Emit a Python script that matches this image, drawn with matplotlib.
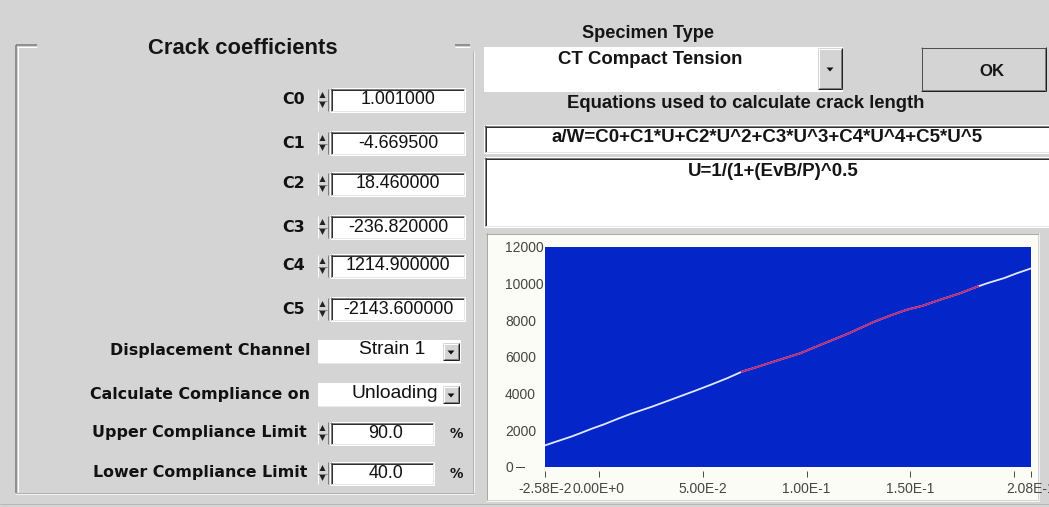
import matplotlib
matplotlib.use('Agg')
import matplotlib.pyplot as plt
from matplotlib.patches import Rectangle, Polygon
from matplotlib.lines import Line2D
import matplotlib.transforms as mtransforms
from matplotlib import font_manager

# ---------------- chart data ----------------
x_data = [-0.0258, -0.0195, -0.0131, -0.0080, -0.0035, 0.0029, 0.0090, 0.0157,
          0.0254, 0.0350, 0.0462, 0.0536, 0.0620, 0.0688, 0.0760, 0.0840,
          0.0969, 0.1080, 0.1201, 0.1321, 0.1400, 0.1482, 0.1560, 0.1642,
          0.1740, 0.1825, 0.1874, 0.1950, 0.2010, 0.2072, 0.2080]
y_data = [1180, 1420, 1660, 1880, 2080, 2340, 2620, 2910,
          3280, 3680, 4150, 4470, 4850, 5195, 5450, 5740,
          6200, 6720, 7280, 7900, 8250, 8575, 8800, 9120,
          9480, 9850, 10040, 10300, 10560, 10800, 10830]
x_fit = [0.0688, 0.0760, 0.0840, 0.0969, 0.1080, 0.1201, 0.1321, 0.1400,
         0.1482, 0.1560, 0.1642, 0.1740, 0.1825]
y_fit = [5195, 5450, 5740, 6200, 6720, 7280, 7900, 8250,
         8575, 8800, 9120, 9480, 9850]
x_ticks = [-0.0258, 0.0, 0.05, 0.10, 0.15, 0.20, 0.208]
x_tick_labels = ['-2.58E-2', '0.00E+0', '5.00E-2', '1.00E-1', '1.50E-1', '', '2.08E-1']
y_ticks = [0, 2000, 4000, 6000, 8000, 10000, 12000]
y_tick_labels = ['0', '2000', '4000', '6000', '8000', '10000', '12000']
x_limits = [-0.0258, 0.208]
y_limits = [0, 12000]

# ---------------- dialog texts ----------------
coef_labels = ['C0', 'C1', 'C2', 'C3', 'C4', 'C5']
coef_values = ['1.001000', '-4.669500', '18.460000', '-236.820000', '1214.900000', '-2143.600000']
option_labels = ['Displacement Channel', 'Calculate Compliance on']
option_values = ['Strain 1', 'Unloading']
limit_labels = ['Upper Compliance Limit', 'Lower Compliance Limit']
limit_values = ['90.0', '40.0']
group_title = 'Crack coefficients'
specimen_title = 'Specimen Type'
specimen_value = 'CT Compact Tension'
ok_label = 'OK'
equation_title = 'Equations used to calculate crack length'
equations = ['a/W=C0+C1*U+C2*U^2+C3*U^3+C4*U^4+C5*U^5', 'U=1/(1+(EvB/P)^0.5']

# ---------------- setup ----------------
W, H, DPI = 1049, 507, 100
PX = 72.0 / DPI
BG = '#d4d4d4'
names = {f.name for f in font_manager.fontManager.ttflist}
NARROW = 'Liberation Sans Narrow' if 'Liberation Sans Narrow' in names else 'Liberation Sans'
SANS = 'Liberation Sans'
BOLD = 'DejaVu Sans'

fig = plt.figure(figsize=(W / DPI, H / DPI), dpi=DPI, facecolor=BG)
ax0 = fig.add_axes([0, 0, 1, 1])
ax0.set_xlim(0, W)
ax0.set_ylim(H, 0)
ax0.set_autoscale_on(False)
ax0.axis('off')
renderer = fig.canvas.get_renderer()


def hline(x0, x1, y, c, lw=1):
    ax0.add_line(Line2D([x0, x1], [y, y], color=c, lw=lw * PX, solid_capstyle='butt'))


def vline(x, y0, y1, c, lw=1):
    ax0.add_line(Line2D([x, x], [y0, y1], color=c, lw=lw * PX, solid_capstyle='butt'))


def rect(x0, y0, x1, y1, face):
    ax0.add_patch(Rectangle((x0, y0), x1 - x0, y1 - y0, facecolor=face, edgecolor='none'))


def sunken(x0, y0, x1, y1, face='white'):
    rect(x0, y0, x1, y1, face)
    hline(x0, x1, y0 + 0.5, '#808080'); vline(x0 + 0.5, y0, y1, '#808080')
    hline(x0 + 1, x1 - 1, y0 + 1.5, '#303030'); vline(x0 + 1.5, y0 + 1, y1 - 1, '#303030')
    hline(x0, x1, y1 - 0.5, '#ffffff'); vline(x1 - 0.5, y0, y1, '#ffffff')
    hline(x0 + 1, x1 - 1, y1 - 1.5, '#e6e6e6'); vline(x1 - 1.5, y0 + 1, y1 - 1, '#e6e6e6')


def raised(x0, y0, x1, y1, face=BG):
    rect(x0, y0, x1, y1, face)
    hline(x0, x1, y0 + 0.5, '#ffffff'); vline(x0 + 0.5, y0, y1, '#ffffff')
    hline(x0, x1, y1 - 0.5, '#202020'); vline(x1 - 0.5, y0, y1, '#202020')
    hline(x0 + 1, x1 - 1, y1 - 1.5, '#808080'); vline(x1 - 1.5, y0 + 1, y1 - 1, '#808080')


def tri(cx, cy, w, h, up, c='#111111'):
    if up:
        pts = [(cx - w / 2, cy + h / 2), (cx + w / 2, cy + h / 2), (cx, cy - h / 2)]
    else:
        pts = [(cx - w / 2, cy - h / 2), (cx + w / 2, cy - h / 2), (cx, cy + h / 2)]
    ax0.add_patch(Polygon(pts, closed=True, facecolor=c, edgecolor='none'))


def put(x, y, s, size=10, width=None, ha='center', family=SANS, weight='normal', color='#111111'):
    t = ax0.text(x, y, s, ha=ha, va='center', fontsize=size, family=family,
                 weight=weight, color=color)
    if width:
        bb = t.get_window_extent(renderer)
        t.set_fontsize(size * width / bb.width)
    return t


def fitsize(s, width, family, weight, size=10):
    t = ax0.text(0, 0, s, fontsize=size, family=family, weight=weight)
    bb = t.get_window_extent(renderer)
    t.remove()
    return size * width / bb.width


def spinner(x0, cy):
    rect(x0, cy - 11, x0 + 11, cy + 11, BG)
    vline(x0 + 0.5, cy - 11, cy + 11, '#ffffff')
    vline(x0 + 10.5, cy - 11, cy + 11, '#808080')
    hline(x0 + 1, x0 + 10, cy + 0.5, '#808080')
    tri(x0 + 5.5, cy - 5, 6, 6, True, '#222222')
    tri(x0 + 5.5, cy + 5, 6, 6, False, '#222222')


def dropbtn(x0, y0, x1, y1):
    raised(x0, y0, x1, y1)
    tri((x0 + x1) / 2, (y0 + y1) / 2 + 1, 7, 4, False)


# ---------------- left group box ----------------
gx0, gy0, gx1, gy1 = 16, 45, 473, 493
vline(gx0, gy0, gy1, '#7a7a7a', 1.5); vline(gx0 + 1.5, gy0 + 1, gy1 - 1, '#ffffff')
hline(gx0, 37, gy0, '#7a7a7a', 1.5); hline(gx0 + 1, 37, gy0 + 1.5, '#ffffff')
hline(455, 470, gy0, '#7a7a7a', 1.5); hline(455, 470, gy0 + 1.5, '#ffffff')
vline(gx1, gy0 + 6, gy1, '#b0b0b0'); vline(gx1 + 1, gy0 + 6, gy1, '#f4f4f4')
hline(gx0, gx1 + 1, gy1, '#b0b0b0'); hline(gx0, gx1 + 1, gy1 + 1, '#f4f4f4')
put(243, 48, group_title, size=15, width=191, family=NARROW, weight='bold', color='#151515')

lab_size = fitsize('Displacement Channel', 200, BOLD, 'bold', 11)
val_size = fitsize('1214.900000', 104, SANS, 'normal', 10)

coef_y = [100, 143, 184, 227, 266, 309]
for name, val, y in zip(coef_labels, coef_values, coef_y):
    put(305, y, name, size=lab_size, ha='right', family=BOLD, weight='bold')
    spinner(317, y)
    sunken(330, y - 12, 465, y + 12)
    put(398, y, val, size=val_size)

opt_y = [351, 394]
opt_cx = [392, 395]
for name, val, y, cx in zip(option_labels, option_values, opt_y, opt_cx):
    put(310, y, name, size=lab_size, ha='right', family=BOLD, weight='bold')
    rect(318, y - 11, 461, y + 12, 'white')
    hline(318, 461, y + 11.5, '#e8e8e8')
    dropbtn(443, y - 8, 459, y + 9)
    put(cx, y - 1, val, size=val_size * 1.08)

lim_y = [433, 473]
for name, val, y in zip(limit_labels, limit_values, lim_y):
    put(307, y, name, size=lab_size, ha='right', family=BOLD, weight='bold')
    spinner(317, y)
    sunken(330, y - 11, 434, y + 12)
    put(386, y, val, size=val_size)
    put(456, y + 1, '%', size=lab_size * 0.85, family=BOLD, weight='bold')

# ---------------- right side widgets ----------------
put(648, 33, specimen_title, size=13, width=132, family=NARROW, weight='bold', color='#151515')
rect(484, 47, 843, 92, 'white')
dropbtn(818, 48, 842, 89)
put(650, 60, specimen_value, size=12, width=183, family=NARROW, weight='bold', color='#151515')

raised(921, 47, 1046, 91)
hline(921, 1046, 47.5, '#505050')
vline(921.5, 47, 91, '#505050')
put(992, 72, ok_label, size=12, width=25, family=NARROW, weight='bold', color='#151515')

put(746, 104, equation_title, size=12, width=357, family=NARROW, weight='bold', color='#151515')
sunken(484, 125, 1053, 153)
put(767, 137, equations[0], size=12, width=432, family=NARROW, weight='bold', color='#151515')
sunken(484, 157, 1053, 227)
put(773, 172, equations[1], size=12, width=172, family=NARROW, weight='bold', color='#151515')

# chart panel
rect(487, 234, 1038, 500, '#fcfcf6')
hline(486, 1039, 233.5, '#a8a8a8'); vline(486.5, 233, 500, '#a8a8a8')
hline(486, 1039, 500.5, '#f6f6f6'); vline(1038.5, 233, 501, '#f0f0f0')
hline(0, W, 503.5, '#b8b8b8')

# ---------------- the chart ----------------
axc = fig.add_axes([545 / W, 1 - 467 / H, (1031 - 545) / W, (467 - 247) / H])
axc.set_facecolor('#0426c9')
axc.plot(x_data, y_data, color='#e2eaff', lw=1.3, solid_joinstyle='round')
axc.plot(x_fit, y_fit, color='#c0246a', lw=1.3, solid_joinstyle='round')
axc.set_xlim(x_limits)
axc.set_ylim(y_limits)
for sp in axc.spines.values():
    sp.set_visible(False)
axc.spines['bottom'].set_position(('outward', 4 * PX))
axc.set_xticks(x_ticks)
axc.set_xticklabels(x_tick_labels)
axc.set_yticks(y_ticks)
axc.set_yticklabels(y_tick_labels)
axc.tick_params(axis='x', length=6 * PX, width=1 * PX, color='#505050', pad=5 * PX,
                labelsize=10, labelcolor='#454545')
axc.tick_params(axis='y', length=0, pad=40 * PX, labelsize=10, labelcolor='#454545')
for lbl in axc.get_xticklabels() + axc.get_yticklabels():
    lbl.set_family(SANS)
for lbl in axc.get_yticklabels():
    lbl.set_ha('left')

# small dash after the "0" label
trans = mtransforms.blended_transform_factory(ax0.transData, axc.transData)
fig.add_artist(Line2D([516, 524], [y_ticks[0], y_ticks[0]], transform=trans,
                      color='#454545', lw=1 * PX))

fig.savefig('out.png', dpi=DPI, facecolor=BG)
